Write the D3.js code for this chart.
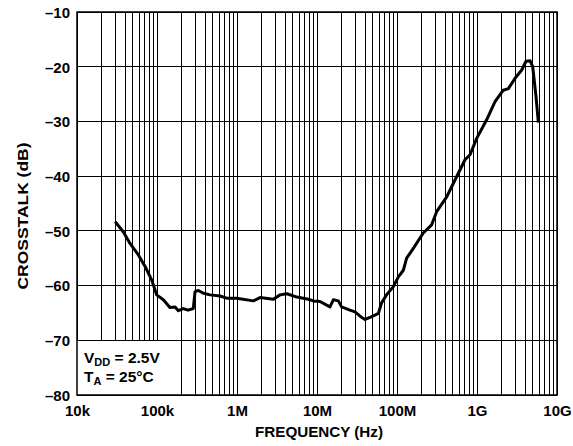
<!DOCTYPE html>
<html>
<head>
<meta charset="utf-8">
<script src="https://cdn.jsdelivr.net/npm/d3@7"></script>
<style>
html,body{margin:0;padding:0;background:#fff;}
svg text{font-family:"Liberation Sans",Arial,Helvetica,sans-serif;font-weight:bold;fill:#000;}
</style>
</head>
<body>
<svg id="chart" width="573" height="446"></svg>
<script>
// Frequency (Hz) and crosstalk (dB)
const freqHz = [30e3, 38e3, 46e3, 58.5e3, 71e3, 86e3, 99e3, 120e3, 145e3, 168e3, 185e3, 213e3, 245e3, 284e3,
  299e3, 329e3, 380e3, 460e3, 615e3, 743e3, 990e3, 1.6e6, 1.94e6, 2.85e6, 3.45e6, 4.2e6, 5.6e6, 7.8e6,
  9e6, 10.9e6, 14.5e6, 16e6, 18.5e6, 20.3e6, 25.8e6, 29.9e6, 36e6, 39.8e6, 46e6, 53e6, 58.5e6, 64e6,
  74e6, 90e6, 104e6, 120e6, 132e6, 160e6, 213e6, 271e6, 313e6, 418e6, 531e6, 708e6, 818e6, 991e6,
  1.32e9, 1.68e9, 2.13e9, 2.47e9, 2.99e9, 3.62e9, 4.1e9, 4.6e9, 4.97e9, 5.47e9, 5.85e9];
const crosstalkDb = [-48.3, -50.2, -52.3, -54.4, -56.5, -59.0, -61.7, -62.6, -64.0, -63.9, -64.6, -64.2, -64.5, -64.2,
  -61.1, -60.9, -61.4, -61.7, -61.9, -62.3, -62.3, -62.8, -62.2, -62.5, -61.7, -61.5, -62.1, -62.5,
  -62.8, -62.9, -63.9, -62.6, -62.8, -63.9, -64.5, -64.8, -65.8, -66.2, -65.8, -65.4, -65.1, -63.2,
  -61.7, -60.2, -58.4, -57.2, -55.0, -53.2, -50.4, -48.9, -46.5, -43.8, -40.7, -37.0, -36.1, -33.1,
  -29.7, -26.4, -24.3, -24.0, -22.1, -20.6, -19.0, -18.9, -20.0, -25.5, -30.2];

const xTickValues = [1e4, 1e5, 1e6, 1e7, 1e8, 1e9, 1e10];
const xTickLabels = ["10k", "100k", "1M", "10M", "100M", "1G", "10G"];
const yTickValues = [-80, -70, -60, -50, -40, -30, -20, -10];
const legendLines = [["V", "DD", " = 2.5V"], ["T", "A", " = 25°C"]];
const xTitle = "FREQUENCY (Hz)";
const yTitle = "CROSSTALK (dB)";

const svg = d3.select("#chart");
const L = 77, R = 557, T = 12, B = 395;
const x = d3.scaleLog().domain([1e4, 1e10]).range([L, R]);
const y = d3.scaleLinear().domain([-80, -10]).range([B, T]);

// minor + major vertical gridlines
const vGrid = [];
for (let d = 1e4; d < 1e10; d *= 10) for (let m = 1; m <= 9; m++) vGrid.push(d * m);
vGrid.push(1e10);

const grid = svg.append("g");
grid.selectAll("line.v").data(vGrid).join("line")
  .attr("x1", d => x(d)).attr("x2", d => x(d))
  .attr("y1", T).attr("y2", B)
  .attr("stroke", "#000").attr("stroke-width", 1).attr("shape-rendering", "crispEdges");
grid.selectAll("line.h").data(yTickValues).join("line")
  .attr("x1", L).attr("x2", R)
  .attr("y1", d => y(d)).attr("y2", d => y(d))
  .attr("stroke", "#000").attr("stroke-width", 1).attr("shape-rendering", "crispEdges");

// legend box (covers grid)
svg.append("rect").attr("x", L).attr("y", y(-70)).attr("width", 91).attr("height", B - y(-70))
  .attr("fill", "#fff");
svg.append("line").attr("x1", L).attr("x2", R).attr("y1", y(-70)).attr("y2", y(-70))
  .attr("stroke", "#000").attr("stroke-width", 1).attr("shape-rendering", "crispEdges");

// frame
svg.append("rect").attr("x", L).attr("y", T).attr("width", R - L).attr("height", B - T)
  .attr("fill", "none").attr("stroke", "#000").attr("stroke-width", 1.5);

// curve
const pts = freqHz.map((f, i) => [f, crosstalkDb[i]]);
svg.append("path").datum(pts)
  .attr("d", d3.line().x(d => x(d[0])).y(d => y(d[1])))
  .attr("fill", "none").attr("stroke", "#000").attr("stroke-width", 3)
  .attr("stroke-linejoin", "round").attr("stroke-linecap", "butt");

// axes
const xAxis = d3.axisBottom(x).tickValues(xTickValues)
  .tickFormat((d, i) => xTickLabels[i]).tickSize(0).tickPadding(0);
const gx = svg.append("g").attr("transform", `translate(0,${B})`).call(xAxis);
gx.select(".domain").remove();
gx.selectAll("text").attr("y", 21).attr("dy", null).style("font-size", "15px")
  .attr("font-family", null).attr("fill", "#000");

const yAxis = d3.axisLeft(y).tickValues(yTickValues)
  .tickFormat(d => d3.format("d")(d).replace("-", "–").replace("−", "–")).tickSize(0).tickPadding(0);
const gy = svg.append("g").attr("transform", `translate(${L},0)`).call(yAxis);
gy.select(".domain").remove();
gy.selectAll("text").attr("x", -7).attr("dy", "0.36em").style("font-size", "15px")
  .attr("font-family", null).attr("fill", "#000");

// titles
svg.append("text").attr("x", 319).attr("y", 437).attr("text-anchor", "middle")
  .style("font-size", "14.5px").attr("textLength", 128).attr("lengthAdjust", "spacingAndGlyphs").text(xTitle);
svg.append("text").attr("transform", "translate(28,216) rotate(-90)").attr("text-anchor", "middle")
  .style("font-size", "15px").attr("textLength", 147).attr("lengthAdjust", "spacingAndGlyphs").text(yTitle);

// legend text
legendLines.forEach((ln, i) => {
  const t = svg.append("text").attr("x", 84).attr("y", 363 + i * 18.5).style("font-size", "15.5px");
  t.append("tspan").text(ln[0]);
  t.append("tspan").attr("dy", 3).style("font-size", "11px").text(ln[1]);
  t.append("tspan").attr("dy", -3).text(ln[2]);
});
</script>
</body>
</html>
